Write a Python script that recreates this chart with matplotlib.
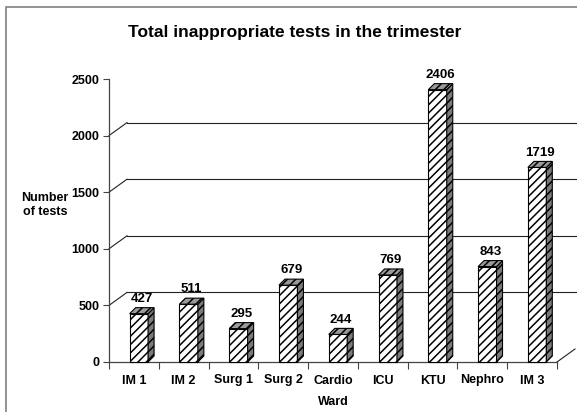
import numpy as np
import matplotlib
matplotlib.use("Agg")
import matplotlib.pyplot as plt
from matplotlib.patches import Polygon, Rectangle

plt.rcParams['font.family'] = ['Liberation Sans', 'DejaVu Sans']
plt.rcParams['hatch.linewidth'] = 1.1

wards = ["IM 1", "IM 2", "Surg 1", "Surg 2", "Cardio", "ICU", "KTU", "Nephro", "IM 3"]
tests = [427, 511, 295, 679, 244, 769, 2406, 843, 1719]
y_ticks = [0, 500, 1000, 1500, 2000, 2500]

W, H = 577, 412
fig = plt.figure(figsize=(W / 100, H / 100), dpi=100)

# front plane of the pseudo-3D chart, in pixels
ax_l, ax_r, ax_b, ax_t = 109, 557, 362, 79
ax = fig.add_axes([ax_l / W, (H - ax_b) / H, (ax_r - ax_l) / W, (ax_b - ax_t) / H])
ax.set_xlim(-0.5, len(wards) - 0.5)
ax.set_ylim(0, 2500)

px_x = (ax_r - ax_l) / len(wards)      # pixels per category
px_y = (ax_b - ax_t) / 2500            # pixels per test

# depth of the back wall and of the bars (converted to data units)
back_dx, back_dy = 18 / px_x, 13 / px_y
bar_dx, bar_dy = 6 / px_x, 6 / px_y

# back wall gridlines + the little diagonals from the front axis
line_kw = dict(color="#222222", lw=0.8, clip_on=False, zorder=1)
x_end = (W - ax_l) / px_x - 0.5
for v in y_ticks[1:-1]:
    ax.plot([-0.5 + back_dx, x_end], [v + back_dy, v + back_dy], **line_kw)
    ax.plot([-0.5, -0.5 + back_dx], [v, v + back_dy], **line_kw)
ax.plot([len(wards) - 0.5, len(wards) - 0.5 + back_dx], [0, back_dy], **line_kw)

# bars: front face
x = np.arange(len(wards))
shift, width = 0.1, 0.37
bars = ax.bar(x + shift, tests, width=width, facecolor="white", edgecolor="black",
              hatch="////", linewidth=0.8, zorder=3, clip_on=False)

# side and top faces
for b, val in zip(bars, tests):
    x0 = b.get_x()
    x1 = x0 + b.get_width()
    side = Polygon([(x1, 0), (x1, val), (x1 + bar_dx, val + bar_dy), (x1 + bar_dx, bar_dy)],
                   closed=True, facecolor="#7a7a7a", edgecolor="black", hatch="////",
                   linewidth=0.8, zorder=3, clip_on=False)
    top = Polygon([(x0, val), (x1, val), (x1 + bar_dx, val + bar_dy), (x0 + bar_dx, val + bar_dy)],
                  closed=True, facecolor="#9a9a9a", edgecolor="black", hatch="////",
                  linewidth=0.8, zorder=3, clip_on=False)
    ax.add_patch(side)
    ax.add_patch(top)
    ax.annotate(str(val), (x0 + (width + bar_dx) / 2, val + bar_dy), xytext=(0, 2),
                textcoords="offset points", ha="center", va="bottom",
                fontsize=9.5, fontweight="bold", zorder=4, annotation_clip=False)

# axes styling
for s in ["top", "right"]:
    ax.spines[s].set_visible(False)
for s in ["left", "bottom"]:
    ax.spines[s].set_color("#444444")
    ax.spines[s].set_linewidth(0.9)
ax.set_facecolor("none")

ax.set_yticks(y_ticks)
ax.set_yticklabels([str(t) for t in y_ticks], fontsize=9, fontweight="bold")
ax.tick_params(axis="y", direction="out", length=4, width=0.8, color="#444444", pad=3)

ax.set_xticks(x)
ax.set_xticklabels(wards, fontsize=9, fontweight="bold")
ax.set_xticks(np.arange(-0.5, len(wards), 1), minor=True)
ax.tick_params(axis="x", which="major", length=0, pad=9)
ax.tick_params(axis="x", which="minor", direction="out", length=5, width=0.8, color="#444444")

ax.set_xlabel("Ward", fontsize=9, fontweight="bold", labelpad=7)

fig.text(45 / W, 1 - 205 / H, "Number\nof tests", ha="center", va="center",
         fontsize=9, fontweight="bold", linespacing=1.25)

fig.text(295 / W, 1 - 32 / H, "Total inappropriate tests in the trimester",
         ha="center", va="center", fontsize=12.5, fontweight="bold")

# chart area border (runs off the right and bottom of the picture)
fig.patches.append(Rectangle((6 / W, -0.2), 1.2, (H - 7) / H + 0.2, transform=fig.transFigure,
                             fill=False, edgecolor="#808080", linewidth=1.2))

fig.savefig("out.png", dpi=100)
